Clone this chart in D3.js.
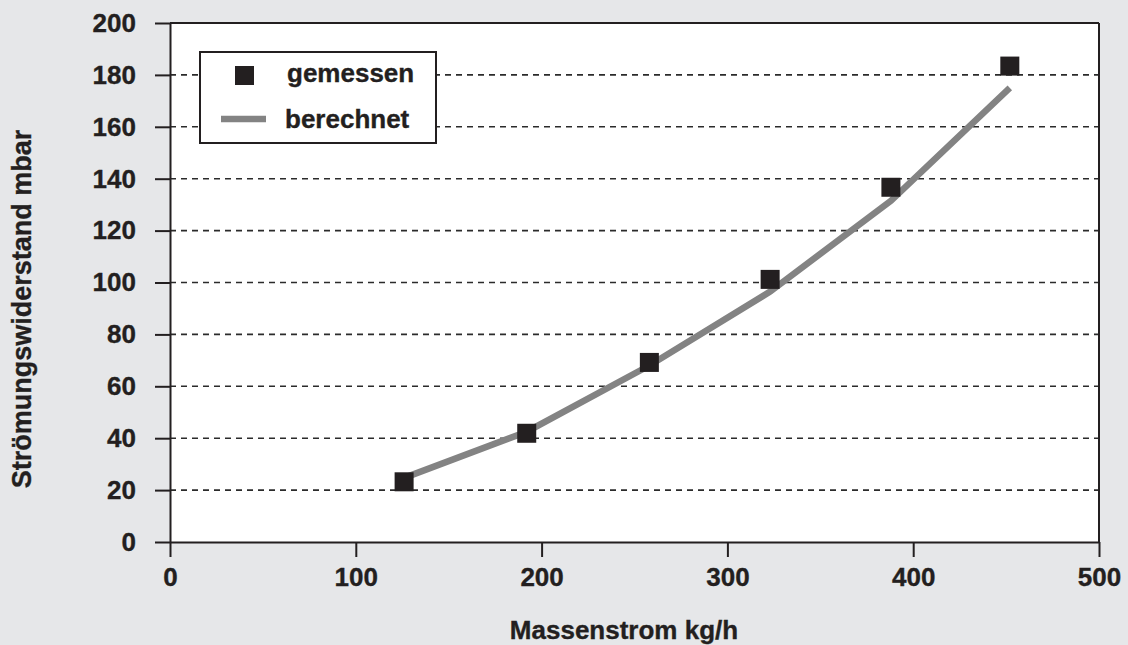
<!DOCTYPE html>
<html>
<head>
<meta charset="utf-8">
<script src="https://cdn.jsdelivr.net/npm/d3@7"></script>
<style>
  html, body { margin: 0; padding: 0; background: #e6e7e9; }
  svg { display: block; font-family: "Liberation Sans", Arial, sans-serif; font-weight: bold; }
  svg text { stroke: #231f20; stroke-width: 0.35px; }
</style>
</head>
<body>
<div id="chart"></div>
<script>
"use strict";

// Measured values (gemessen)
const measured_x = [126, 192, 258, 323, 388, 452];
const measured_y = [23.2, 41.9, 69.2, 101.2, 136.7, 183.4];

// Calculated curve (berechnet)
const calc_x = [126, 192, 258, 323, 388, 452];
const calc_y = [24.7, 42.5, 68, 96.5, 131.5, 175];

const x_ticks = [0, 100, 200, 300, 400, 500];
const y_ticks = [0, 20, 40, 60, 80, 100, 120, 140, 160, 180, 200];

const legend_labels = ["gemessen", "berechnet"];

const width = 1128, height = 645;
const margin = {top: 23, right: 29, bottom: 103, left: 170};
const inner_w = width - margin.left - margin.right;
const inner_h = height - margin.top - margin.bottom;

const ink = "#231f20";
const line_grey = "#838383";

let svg = d3.select("#chart").append("svg")
    .attr("width", width)
    .attr("height", height);

svg.append("rect")
    .attr("width", width).attr("height", height)
    .style("fill", "#e6e7e9");

let g = svg.append("g").attr("transform", "translate(" + margin.left + "," + margin.top + ")");

let x = d3.scaleLinear().domain([0, 500]).range([0, inner_w]);
let y = d3.scaleLinear().domain([0, 200]).range([inner_h, 0]);

// Plot area
g.append("rect")
    .attr("width", inner_w).attr("height", inner_h)
    .style("fill", "#ffffff");

// Dashed gridlines
g.selectAll(".grid").data(y_ticks.filter(d => d > 0 && d < 200))
    .enter().append("line")
    .attr("class", "grid")
    .attr("x1", 0).attr("x2", inner_w)
    .attr("y1", d => y(d)).attr("y2", d => y(d))
    .style("stroke", "#2b2b2b")
    .style("stroke-width", 1.6)
    .style("stroke-dasharray", "6,5");

// Frame: top and right
g.append("line").attr("x1", 0).attr("x2", inner_w).attr("y1", 0).attr("y2", 0)
    .style("stroke", ink).style("stroke-width", 2);
g.append("line").attr("x1", inner_w).attr("x2", inner_w).attr("y1", 0).attr("y2", inner_h)
    .style("stroke", ink).style("stroke-width", 2);

// Axes
let x_axis = g.append("g")
    .attr("transform", "translate(0," + inner_h + ")")
    .call(d3.axisBottom(x).tickValues(x_ticks).tickSize(15).tickSizeOuter(0).tickPadding(11));
let y_axis = g.append("g")
    .call(d3.axisLeft(y).tickValues(y_ticks).tickSize(15).tickSizeOuter(0).tickPadding(19));

[x_axis, y_axis].forEach(function (ax) {
    ax.select(".domain").style("stroke", ink).style("stroke-width", 2);
    ax.selectAll(".tick line").style("stroke", ink).style("stroke-width", 2);
    ax.selectAll(".tick text")
        .style("font-family", "'Liberation Sans', Arial, sans-serif")
        .style("font-weight", "bold")
        .style("font-size", "26px")
        .style("fill", ink);
});

// Calculated line
let line = d3.line()
    .x(d => x(d[0]))
    .y(d => y(d[1]));
g.append("path")
    .datum(d3.zip(calc_x, calc_y))
    .attr("d", line)
    .style("fill", "none")
    .style("stroke", line_grey)
    .style("stroke-width", 6.5);

// Measured squares
const sq = 19;
g.selectAll(".pt").data(d3.zip(measured_x, measured_y))
    .enter().append("rect")
    .attr("class", "pt")
    .attr("x", d => x(d[0]) - sq / 2)
    .attr("y", d => y(d[1]) - sq / 2)
    .attr("width", sq).attr("height", sq)
    .style("fill", ink);

// Axis titles
svg.append("text")
    .attr("x", 624)
    .attr("y", 639)
    .attr("text-anchor", "middle")
    .style("font-size", "26px")
    .style("fill", ink)
    .text("Massenstrom kg/h");

svg.append("text")
    .attr("transform", "translate(31,309) rotate(-90)")
    .attr("text-anchor", "middle")
    .style("font-size", "27px")
    .style("fill", ink)
    .text("Strömungswiderstand mbar");

// Legend
let legend = svg.append("g").attr("transform", "translate(200,52)");
legend.append("rect")
    .attr("width", 236).attr("height", 91)
    .style("fill", "#ffffff")
    .style("stroke", ink)
    .style("stroke-width", 2);
legend.append("rect")
    .attr("x", 35).attr("y", 14)
    .attr("width", sq).attr("height", sq)
    .style("fill", ink);
legend.append("line")
    .attr("x1", 21).attr("x2", 66)
    .attr("y1", 67).attr("y2", 67)
    .style("stroke", line_grey)
    .style("stroke-width", 6.5);
legend.selectAll(".leg_label").data(legend_labels)
    .enter().append("text")
    .attr("class", "leg_label")
    .attr("x", (d, i) => i === 0 ? 87 : 85)
    .attr("y", (d, i) => i === 0 ? 30 : 76)
    .style("font-size", "26px")
    .style("fill", ink)
    .text(d => d);
</script>
</body>
</html>
